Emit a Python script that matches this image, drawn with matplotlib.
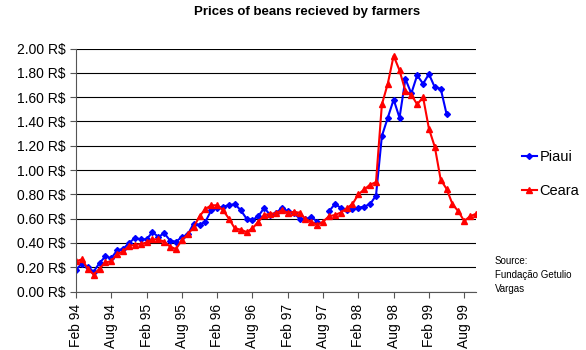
import numpy as np
import matplotlib
matplotlib.use("Agg")
import matplotlib.pyplot as plt
from matplotlib.lines import Line2D

plt.rcParams['font.family'] = ['Liberation Sans', 'DejaVu Sans']

months = ["Feb 94", "Aug 94", "Feb 95", "Aug 95", "Feb 96", "Aug 96",
          "Feb 97", "Aug 97", "Feb 98", "Aug 98", "Feb 99", "Aug 99"]

ceara = [0.25, 0.265, 0.19, 0.14, 0.19, 0.24, 0.25, 0.31, 0.33, 0.375,
         0.385, 0.39, 0.405, 0.43, 0.43, 0.41, 0.37, 0.35, 0.425, 0.47,
         0.53, 0.62, 0.68, 0.71, 0.71, 0.67, 0.60, 0.52, 0.51, 0.49,
         0.52, 0.575, 0.63, 0.64, 0.645, 0.67, 0.65, 0.655, 0.65, 0.595,
         0.575, 0.55, 0.575, 0.62, 0.63, 0.65, 0.685, 0.72, 0.80, 0.84,
         0.88, 0.90, 1.54, 1.71, 1.94, 1.82, 1.65, 1.62, 1.54, 1.60,
         1.34, 1.19, 0.92, 0.845, 0.72, 0.66, 0.58, 0.62, 0.64]

piaui = [0.18, 0.23, 0.20, 0.165, 0.235, 0.29, 0.275, 0.34, 0.35, 0.40,
         0.44, 0.43, 0.43, 0.49, 0.45, 0.48, 0.42, 0.41, 0.45, 0.47,
         0.56, 0.55, 0.575, 0.67, 0.685, 0.70, 0.71, 0.72, 0.67, 0.60,
         0.59, 0.62, 0.69, 0.63, 0.645, 0.69, 0.66, 0.65, 0.60, 0.595,
         0.615, 0.575, np.nan, 0.66, 0.72, 0.69, 0.67, 0.68, 0.69, 0.70,
         0.72, 0.79, 1.28, 1.43, 1.58, 1.43, 1.75, 1.63, 1.78, 1.71,
         1.79, 1.68, 1.67, 1.46, np.nan, np.nan, np.nan, np.nan, np.nan]

y_ticks = [0.0, 0.2, 0.4, 0.6, 0.8, 1.0, 1.2, 1.4, 1.6, 1.8, 2.0]

fig = plt.figure(figsize=(5.86, 3.5), dpi=100)
ax = fig.add_axes([76/586, 1-291.6/350, 400/586, (291.6-48.5)/350])

x = np.arange(len(ceara))
ax.plot(x, piaui, color='#0000FF', lw=1.5, marker='D', ms=3, label='Piaui')
ax.plot(x, ceara, color='#FF0000', lw=1.5, marker='^', ms=4, label='Ceara')

ax.set_xlim(0, len(ceara) - 1)
ax.set_ylim(0, 2.0)
ax.set_yticks(y_ticks)
ax.set_yticklabels([f"{v:.2f} R$" for v in y_ticks], fontsize=10)
ax.set_xticks(np.arange(0, len(ceara), 6))
ax.set_xticklabels(months, rotation=90, fontsize=10)
ax.yaxis.grid(True, color='black', lw=0.8)
ax.set_axisbelow(True)
for s in ['top', 'right']:
    ax.spines[s].set_visible(False)
ax.spines['left'].set_color('#555555')
ax.spines['bottom'].set_color('#555555')
ax.tick_params(axis='both', direction='out', length=4, width=0.8, color='#555555')
ax.tick_params(axis='x', pad=5)

fig.text(307/586, 1-12/350, "Prices of beans recieved by farmers",
         ha='center', va='center', fontsize=9.5, fontweight='bold')

handles = [Line2D([], [], color='#0000FF', lw=1.5, marker='D', ms=3),
           Line2D([], [], color='#FF0000', lw=1.5, marker='^', ms=4)]
fig.legend(handles, ['Piaui', 'Ceara'], loc='upper left',
           bbox_to_anchor=(522/586, 1-150/350), frameon=False, fontsize=10.5,
           handlelength=1.0, handletextpad=0.2, labelspacing=1.4,
           borderaxespad=0, borderpad=0)

fig.text(495/586, 1-256/350, "Source:\nFundação Getulio\nVargas",
         ha='left', va='top', fontsize=7, linespacing=1.5)

fig.savefig("out.png", dpi=100)
